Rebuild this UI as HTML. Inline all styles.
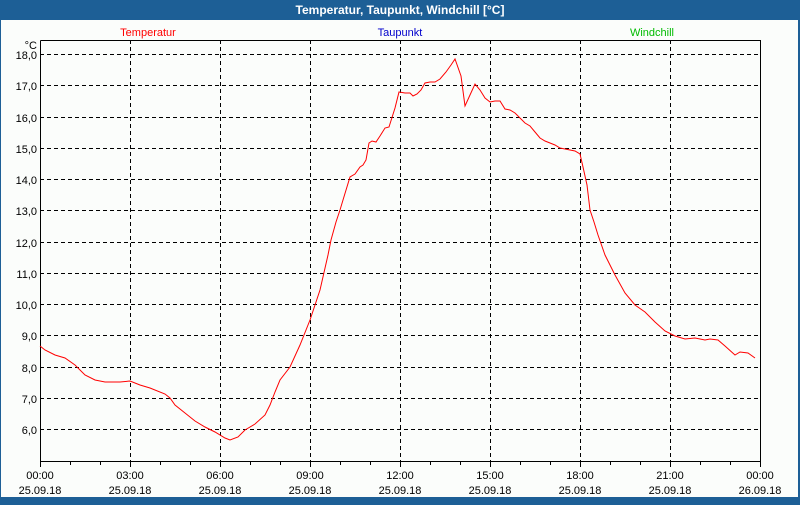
<!DOCTYPE html>
<html><head><meta charset="utf-8"><style>
body{margin:0;width:800px;height:500px;overflow:hidden;background:#1d5f96;font-family:"Liberation Sans",sans-serif;}
</style></head><body>
<svg width="800" height="500" xmlns="http://www.w3.org/2000/svg" font-family="Liberation Sans, sans-serif" font-size="11">
<rect x="0" y="0" width="800" height="500" fill="#1d5f96"/>
<rect x="1" y="20" width="797" height="477" fill="#fbfdfb"/>
<text x="400" y="14" fill="#fff" font-weight="bold" font-size="12" text-anchor="middle">Temperatur, Taupunkt, Windchill [°C]</text>
<text x="148" y="36" fill="#ff0000" text-anchor="middle">Temperatur</text>
<text x="400" y="36" fill="#0000cc" text-anchor="middle">Taupunkt</text>
<text x="652" y="36" fill="#00bb00" text-anchor="middle">Windchill</text>
<g stroke="#000" stroke-dasharray="4,3" stroke-width="1">
<line x1="40" x2="760" y1="54.5" y2="54.5"/><line x1="40" x2="760" y1="85.5" y2="85.5"/><line x1="40" x2="760" y1="117.5" y2="117.5"/><line x1="40" x2="760" y1="148.5" y2="148.5"/><line x1="40" x2="760" y1="179.5" y2="179.5"/><line x1="40" x2="760" y1="210.5" y2="210.5"/><line x1="40" x2="760" y1="242.5" y2="242.5"/><line x1="40" x2="760" y1="273.5" y2="273.5"/><line x1="40" x2="760" y1="304.5" y2="304.5"/><line x1="40" x2="760" y1="335.5" y2="335.5"/><line x1="40" x2="760" y1="367.5" y2="367.5"/><line x1="40" x2="760" y1="398.5" y2="398.5"/><line x1="40" x2="760" y1="429.5" y2="429.5"/>
<line x1="130.5" x2="130.5" y1="40" y2="461"/><line x1="220.5" x2="220.5" y1="40" y2="461"/><line x1="310.5" x2="310.5" y1="40" y2="461"/><line x1="400.5" x2="400.5" y1="40" y2="461"/><line x1="490.5" x2="490.5" y1="40" y2="461"/><line x1="580.5" x2="580.5" y1="40" y2="461"/><line x1="670.5" x2="670.5" y1="40" y2="461"/>
</g>
<path d="M40.5,40.5H760.5V461M40.5,40.5V461M40,461.5H761" fill="none" stroke="#000"/>
<g stroke="#000">
<path d="M40.5,461V467M70.5,461V465M100.5,461V465M130.5,461V467M160.5,461V465M190.5,461V465M220.5,461V467M250.5,461V465M280.5,461V465M310.5,461V467M340.5,461V465M370.5,461V465M400.5,461V467M430.5,461V465M460.5,461V465M490.5,461V467M520.5,461V465M550.5,461V465M580.5,461V467M610.5,461V465M640.5,461V465M670.5,461V467M700.5,461V465M730.5,461V465M760.5,461V467"/>
</g>
<g text-anchor="end" fill="#000">
<text x="37" y="49">°C</text>
<text x="37" y="59">18,0</text><text x="37" y="90">17,0</text><text x="37" y="122">16,0</text><text x="37" y="153">15,0</text><text x="37" y="184">14,0</text><text x="37" y="215">13,0</text><text x="37" y="247">12,0</text><text x="37" y="278">11,0</text><text x="37" y="309">10,0</text><text x="37" y="340">9,0</text><text x="37" y="372">8,0</text><text x="37" y="403">7,0</text><text x="37" y="434">6,0</text>
</g>
<g text-anchor="middle" fill="#000">
<text x="40" y="479">00:00</text><text x="40" y="494">25.09.18</text>
<text x="130" y="479">03:00</text><text x="130" y="494">25.09.18</text>
<text x="220" y="479">06:00</text><text x="220" y="494">25.09.18</text>
<text x="310" y="479">09:00</text><text x="310" y="494">25.09.18</text>
<text x="400" y="479">12:00</text><text x="400" y="494">25.09.18</text>
<text x="490" y="479">15:00</text><text x="490" y="494">25.09.18</text>
<text x="580" y="479">18:00</text><text x="580" y="494">25.09.18</text>
<text x="670" y="479">21:00</text><text x="670" y="494">25.09.18</text>
<text x="760" y="479">00:00</text><text x="760" y="494">26.09.18</text>
</g>
<polyline fill="none" stroke="#ff0000" stroke-width="1" points="40,346 45,350 55,355 65,358 75,365 85,375 95,380 105,382 120,382 130,381 140,385 150,388 165,394 170,398 175,405 185,413 195,421 205,427 215,432 225,438 230,440 238,437 245,430 255,424 265,415 270,405 275,392 280,380 290,367 300,345 310,320 320,290 328,255 331,240 336,222 340,210 343,200 350,177 355,174 360,167 363,165 366,160 369,143 372,141 376,142 380,136 385,128 389,127 395,108 399,92 405,93 410,93 413,96 417,94 421,90 425,83 430,82 435,82 440,79 446,72 451,65 455,59 461,76 465,106 470,95 475,84 480,90 485,98 490,102 495,101 500,101 505,109 510,110 515,113 520,118 525,123 530,126 535,132 540,138 545,141 550,143 555,145 560,148 565,149 570,150 575,151 580,154 583,167 587,185 590,210 594,222 598,235 605,255 615,275 625,293 635,305 645,312 655,322 665,331 675,336 685,339 695,338 705,340 710,339 718,340 725,346 735,355 740,352 748,353 755,358"/>
</svg>
</body></html>
